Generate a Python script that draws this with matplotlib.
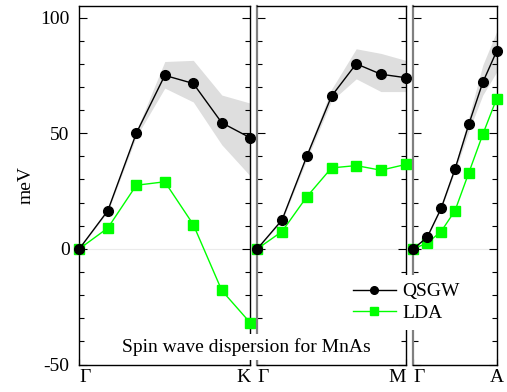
import matplotlib.pyplot as plt
from matplotlib.lines import Line2D

plt.rcParams["font.family"] = ["Liberation Serif", "DejaVu Serif"]
plt.rcParams["font.size"] = 14
plt.rcParams["axes.unicode_minus"] = False

# three k-paths, 7 q-points each (meV)
paths = ["ΓK", "ΓM", "ΓA"]
end_labels = ["K", "M", "A"]
qpoints = [0, 1, 2, 3, 4, 5, 6]

qsgw_gk = [0, 16.5, 50, 75, 71.5, 54.5, 48]
lda_gk = [0, 9, 27.5, 29, 10.5, -18, -32]
band_lo_gk = [0, 16, 48.5, 69.5, 63.5, 45, 31.5]
band_hi_gk = [0, 17, 51, 81, 81.5, 66.5, 63]

qsgw_gm = [0, 12.5, 40, 66, 80, 75.5, 74]
lda_gm = [0, 7.5, 22.5, 35, 36, 34, 36.5]
band_lo_gm = [0, 12, 38.5, 64, 73.5, 68, 68]
band_hi_gm = [0, 13, 41.5, 69, 86.5, 84.5, 81.5]

qsgw_ga = [0, 5, 17.5, 34.5, 54, 72, 85.5]
lda_ga = [0, 2.5, 7.5, 16.5, 33, 49.5, 65]
band_lo_ga = [0, 5, 17, 33.5, 51, 66.5, 76.5]
band_hi_ga = [0, 5.5, 18.5, 36, 57, 79.5, 94]

qsgw = [qsgw_gk, qsgw_gm, qsgw_ga]
lda = [lda_gk, lda_gm, lda_ga]
band_lo = [band_lo_gk, band_lo_gm, band_lo_ga]
band_hi = [band_hi_gk, band_hi_gm, band_hi_ga]

W, H = 507, 392
fig = plt.figure(figsize=(W / 100, H / 100), dpi=100)

# panel edges in pixels (left, right)
edges = [(79.3, 250.3), (257.3, 405.7), (413.3, 496.7)]
bottom_px, top_px = 364.5, 6.0

axes = []
for i, (x0, x1) in enumerate(edges):
    ax = fig.add_axes([x0 / W, (H - bottom_px) / H, (x1 - x0) / W, (bottom_px - top_px) / H])
    axes.append(ax)

    ax.axhline(0, color="#ebebeb", lw=0.8, zorder=0)
    ax.fill_between(qpoints, band_lo[i], band_hi[i], color="#dedede", lw=0, zorder=1)
    ax.plot(qpoints, lda[i], color="#00ff00", lw=1.0, marker="s", ms=6.5,
            mec="#00ff00", clip_on=False, zorder=3)
    ax.plot(qpoints, qsgw[i], color="black", lw=1.0, marker="o", ms=7,
            clip_on=False, zorder=4)

    ax.set_xlim(0, 6)
    ax.set_ylim(-50, 105)
    ax.set_yticks([-50, 0, 50, 100])
    ax.set_yticks(range(-40, 101, 10), minor=True)
    ax.tick_params(axis="y", which="both", direction="in", left=True, right=True)
    ax.tick_params(axis="y", which="major", length=6, width=0.8, pad=7)
    ax.tick_params(axis="y", which="minor", length=3.5, width=0.8)
    ax.set_xticks([0, 6])
    ax.set_xticklabels(["Γ", end_labels[i]])
    ax.tick_params(axis="x", direction="in", length=4, width=0.8, pad=3)
    xt = ax.get_xticklabels()
    xt[0].set_ha("left")
    xt[1].set_ha("right" if i < 2 else "center")
    for side in ax.spines.values():
        side.set_linewidth(1.0)
    if i > 0:
        ax.set_yticklabels([])
        ax.spines["left"].set_color("#808080")
        ax.spines["left"].set_linewidth(1.6)

axes[0].set_ylabel("meV", labelpad=4)

fig.text(246 / W, 1 - 347 / H, "Spin wave dispersion for MnAs", ha="center", va="center",
         bbox=dict(facecolor="white", edgecolor="none", pad=3), zorder=10)

handles = [
    Line2D([], [], color="black", lw=1.0, marker="o", ms=5.5),
    Line2D([], [], color="#00ff00", lw=1.0, marker="s", ms=5.5, mec="#00ff00"),
]
leg = fig.legend(handles, ["QSGW", "LDA"], loc="upper left",
                 bbox_to_anchor=(345 / W, 1 - 275 / H), borderaxespad=0,
                 frameon=True, fancybox=False, framealpha=1, edgecolor="none",
                 handlelength=2.2, handletextpad=0.35, labelspacing=0.2, borderpad=0.4)
leg.set_zorder(10)

fig.savefig("out.png", dpi=100)
